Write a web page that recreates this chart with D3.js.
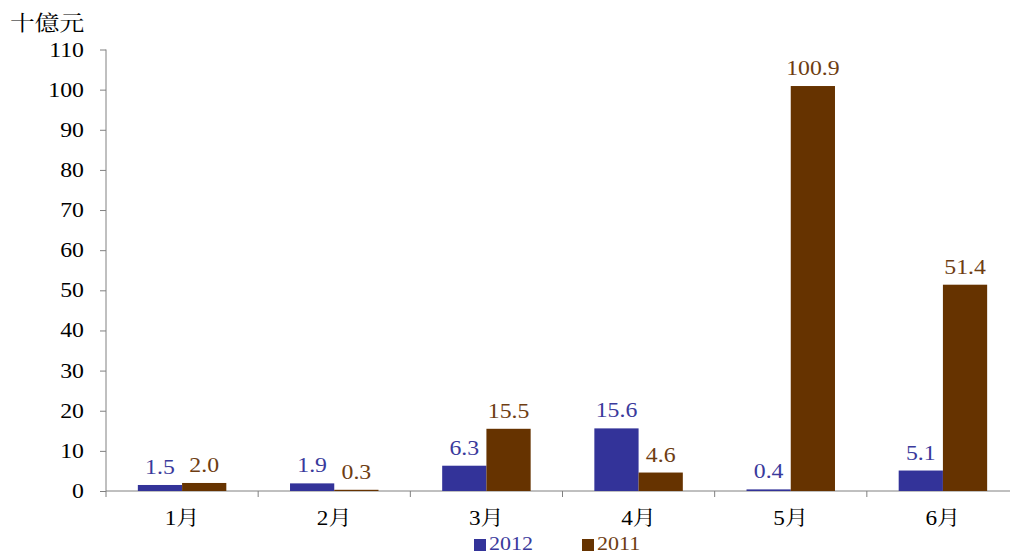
<!DOCTYPE html>
<html>
<head>
<meta charset="utf-8">
<script src="https://cdn.jsdelivr.net/npm/d3@7"></script>
<style>
  body { margin: 0; background: #fff; }
  text { font-family: "Liberation Serif", "Noto Serif CJK TC", "Noto Sans CJK TC", serif; }
</style>
</head>
<body>
<svg width="1010" height="555"></svg>
<script>
var months = ["1月", "2月", "3月", "4月", "5月", "6月"];
var series = ["2012", "2011"];
var values2012 = [1.5, 1.9, 6.3, 15.6, 0.4, 5.1];
var values2011 = [2.0, 0.3, 15.5, 4.6, 100.9, 51.4];
var yTicks = [0, 10, 20, 30, 40, 50, 60, 70, 80, 90, 100, 110];
var colors = { "2012": "#333399", "2011": "#663300" };
var labelColors = { "2012": "#3a3a9c", "2011": "#6e3d12" };

var STRETCH = 1.16;
var svg = d3.select("svg");

// text that is a bit wider than the font, like the original export
function stretched(sel, px, py){
  return sel.attr("x", 0).attr("y", 0)
    .attr("transform", function(d, i){
      return "translate(" + px(d, i) + "," + py(d, i) + ") scale(" + STRETCH + ",1)";
    });
}

var x = d3.scaleBand().domain(months).range([106, 1019]).paddingInner(0).paddingOuter(0);
var inner = d3.scaleBand().domain(series).range([0, x.bandwidth()]).paddingInner(0).paddingOuter(0.72);
var y = d3.scaleLinear().domain([0, 110]).range([491, 49.5]);

// y axis
var yAxis = d3.axisLeft(y).tickValues(yTicks).tickSize(6).tickFormat("");
var gy = svg.append("g").attr("transform", "translate(106,0)").call(yAxis);
gy.select(".domain").attr("stroke", "#808080").attr("d", "M0," + y(110) + "V" + y(0));
gy.selectAll(".tick line").attr("stroke", "#808080");

stretched(svg.selectAll(".ylab").data(yTicks).enter().append("text"),
    function(){ return 84; }, function(d){ return y(d) + 7; })
  .attr("text-anchor", "end").style("font-size", "20.5px").attr("fill", "#000")
  .text(function(d){ return d; });

// x axis
var gx = svg.append("g").attr("transform", "translate(0,491)");
gx.append("line").attr("x1", 106).attr("x2", 1019).attr("y1", 0).attr("y2", 0).attr("stroke", "#808080");
var bounds = months.map(function(m){ return x(m); }).concat([x(months[months.length-1]) + x.bandwidth()]);
gx.selectAll(".xt").data(bounds).enter().append("line")
  .attr("x1", function(d){ return d; }).attr("x2", function(d){ return d; })
  .attr("y1", 0).attr("y2", 6).attr("stroke", "#808080");
stretched(gx.selectAll(".xl").data(months).enter().append("text"),
    function(d){ return x(d) + x.bandwidth()/2; }, function(){ return 34; })
  .attr("text-anchor", "middle")
  .style("font-size", "20px").attr("fill", "#000")
  .text(function(d){ return d; });

// y unit label
svg.append("text").attr("x", 0).attr("y", 0)
  .attr("transform", "translate(10,30) scale(1.18,1)")
  .style("font-size", "21px")
  .style("font-family", "'Noto Serif CJK TC','Noto Sans CJK TC',serif")
  .attr("fill", "#000").text("十億元");

// bars
var data = [];
months.forEach(function(m, i){
  data.push({ m: m, s: "2012", v: values2012[i] });
  data.push({ m: m, s: "2011", v: values2011[i] });
});

svg.selectAll(".bar").data(data).enter().append("rect")
  .attr("x", function(d){ return x(d.m) + inner(d.s); })
  .attr("width", inner.bandwidth())
  .attr("y", function(d){ return y(d.v); })
  .attr("height", function(d){ return y(0) - y(d.v); })
  .attr("fill", function(d){ return colors[d.s]; });

stretched(svg.selectAll(".val").data(data).enter().append("text"),
    function(d){ return x(d.m) + inner(d.s) + inner.bandwidth()/2; },
    function(d){ return y(d.v) - 11; })
  .attr("text-anchor", "middle")
  .style("font-size", "20.5px")
  .attr("fill", function(d){ return labelColors[d.s]; })
  .text(function(d){ return d.v.toFixed(1); });

// legend
var leg = svg.append("g");
var legX = { "2012": 474, "2011": 582 };
series.forEach(function(s){
  leg.append("rect").attr("x", legX[s]).attr("y", 539).attr("width", 12).attr("height", 12)
    .attr("fill", colors[s]);
  leg.append("text").attr("x", 0).attr("y", 0)
    .attr("transform", "translate(" + (legX[s] + 15) + ",550) scale(" + STRETCH + ",1)")
    .style("font-size", "19px")
    .attr("fill", labelColors[s]).text(s);
});
</script>
</body>
</html>
